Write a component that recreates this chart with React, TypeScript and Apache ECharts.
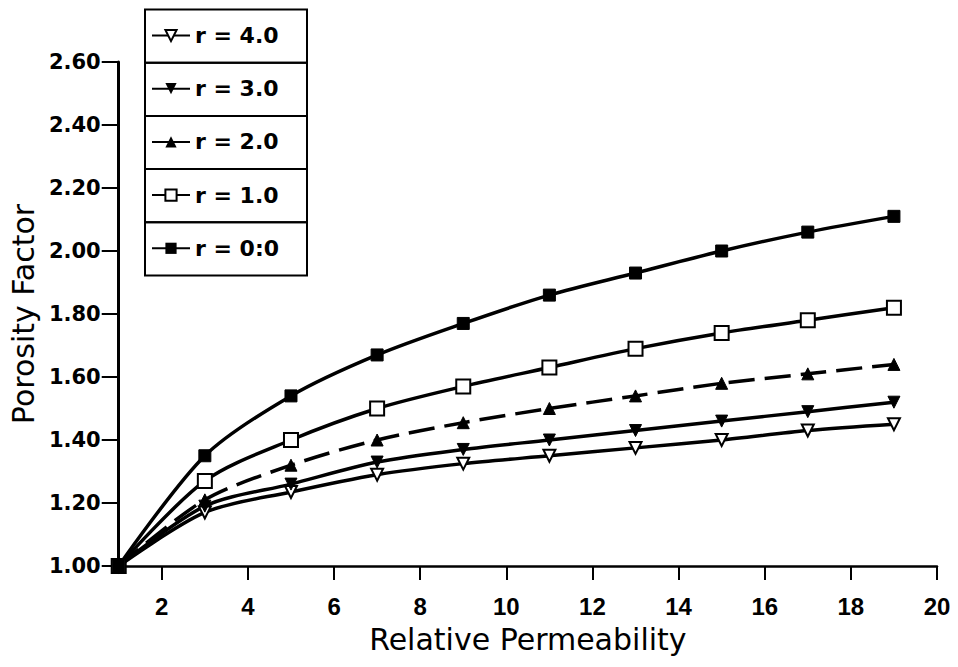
import React, { useEffect, useRef } from "react";
import * as echarts from "echarts";

const xValues = [1, 3, 5, 7, 9, 11, 13, 15, 17, 19];
const seriesNames = ["r = 4.0", "r = 3.0", "r = 2.0", "r = 1.0", "r = 0:0"];
const r4 = [1.0, 1.17, 1.235, 1.29, 1.325, 1.35, 1.375, 1.4, 1.43, 1.45];
const r3 = [1.0, 1.19, 1.26, 1.33, 1.37, 1.4, 1.43, 1.46, 1.49, 1.52];
const r2 = [1.0, 1.21, 1.32, 1.4, 1.455, 1.5, 1.54, 1.58, 1.61, 1.64];
const r1 = [1.0, 1.27, 1.4, 1.5, 1.57, 1.63, 1.69, 1.74, 1.78, 1.82];
const r0 = [1.0, 1.35, 1.54, 1.67, 1.77, 1.86, 1.93, 2.0, 2.06, 2.11];
const xTickValues = [2, 4, 6, 8, 10, 12, 14, 16, 18, 20];

const FONT = "DejaVu Sans";

export default function App() {
  const ref = useRef<HTMLDivElement>(null);
  useEffect(() => {
    if (!ref.current) return;
    const chart = echarts.init(ref.current, null, { renderer: "svg" });
    const pair = (ys: number[]) => xValues.map((x, i) => [x, ys[i]]);
    const base = {
      type: "line",
      smooth: 0.3,
      symbolSize: 12,
      lineStyle: { color: "#000", width: 3.5 },
      itemStyle: { color: "#000", borderColor: "#000" },
    };
    const rowTop = 9.5;
    const rowH = 53.2;
    const boxes = [0, 1, 2, 3, 4].map((i) => ({
      type: "rect",
      shape: { x: 145, y: rowTop + i * rowH, width: 162, height: rowH },
      style: { fill: "rgba(255,255,255,0)", stroke: "#000", lineWidth: 2 },
      z: 10,
    }));
    chart.setOption({
      animation: false,
      backgroundColor: "#fff",
      grid: { left: 117, right: 21, top: 62, bottom: 101 },
      xAxis: {
        type: "value",
        min: 1,
        max: 20,
        name: "Relative Permeability",
        nameLocation: "middle",
        nameGap: 58,
        nameTextStyle: { fontFamily: FONT, fontSize: 30, color: "#000" },
        splitLine: { show: false },
        axisLine: { onZero: false, lineStyle: { color: "#000", width: 2.5 } },
        axisTick: {
          show: true,
          length: 14,
          customValues: xTickValues,
          lineStyle: { color: "#000", width: 2 },
        },
        axisLabel: {
          customValues: xTickValues,
          margin: 28,
          fontFamily: "Liberation Sans",
          fontWeight: "bold",
          fontSize: 24,
          color: "#000",
        },
      },
      yAxis: {
        type: "value",
        min: 1,
        max: 2.6,
        interval: 0.2,
        name: "Porosity Factor",
        nameLocation: "middle",
        nameGap: 74,
        nameTextStyle: { fontFamily: FONT, fontSize: 30, color: "#000" },
        splitLine: { show: false },
        axisLine: { show: true, onZero: false, lineStyle: { color: "#000", width: 3 } },
        axisTick: { show: true, length: 17, lineStyle: { color: "#000", width: 2 } },
        axisLabel: {
          margin: 18,
          fontFamily: FONT,
          fontWeight: "bold",
          fontSize: 21,
          color: "#000",
          formatter: (v: number) => v.toFixed(2),
        },
      },
      legend: {
        orient: "vertical",
        left: 151,
        top: 23.5,
        padding: 0,
        itemWidth: 38,
        itemHeight: 14,
        itemGap: 29.2,
        textStyle: {
          fontFamily: FONT,
          fontWeight: "bold",
          fontSize: 22,
          lineHeight: 24,
          color: "#000",
        },
        data: [
          { name: seriesNames[0] },
          { name: seriesNames[1] },
          { name: seriesNames[2], lineStyle: { type: "solid" } },
          { name: seriesNames[3] },
          { name: seriesNames[4] },
        ],
      },
      graphic: boxes,
      series: [
        {
          ...base,
          name: seriesNames[0],
          data: pair(r4),
          symbol: "emptyTriangle",
          symbolRotate: 180,
          symbolSize: 12,
        },
        {
          ...base,
          name: seriesNames[1],
          data: pair(r3),
          symbol: "triangle",
          symbolRotate: 180,
          symbolSize: 12,
        },
        {
          ...base,
          name: seriesNames[2],
          data: pair(r2),
          symbol: "triangle",
          symbolSize: 12,
          lineStyle: { color: "#000", width: 3.5, type: [26, 10] },
        },
        {
          ...base,
          name: seriesNames[3],
          data: pair(r1),
          symbol: "emptyRect",
          symbolSize: 14,
        },
        {
          ...base,
          name: seriesNames[4],
          data: pair(r0),
          symbol: "rect",
          symbolSize: 12,
        },
      ],
    });
    return () => chart.dispose();
  }, []);
  return (
    <div
      ref={ref}
      style={{ position: "fixed", left: 0, top: 0, width: 958, height: 667, background: "#fff" }}
    />
  );
}
